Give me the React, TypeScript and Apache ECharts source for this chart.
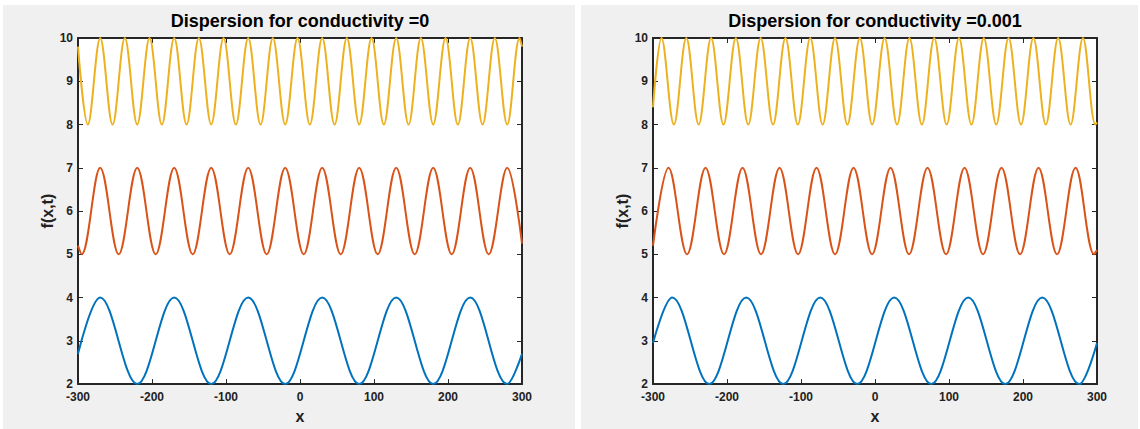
import React, { useEffect, useRef } from "react";
import * as echarts from "echarts";

// ---- data (extrema and end points) ----
const titles = ["Dispersion for conductivity =0", "Dispersion for conductivity =0.001"];
const xTicks = { min: -300, max: 300, interval: 100 };
const yTicks = { min: 2, max: 10, interval: 1 };
const xLabel = "x";
const yLabel = "f(x,t)";

// Left panel (conductivity = 0)
const blueLeft: [number, number][] = [
  [-300, 2.7], [-270, 4], [-220, 2], [-170, 4], [-120, 2], [-70, 4], [-20, 2],
  [30, 4], [80, 2], [130, 4], [180, 2], [230, 4], [280, 2], [300, 2.7],
];
const redLeft: [number, number][] = [
  [-300, 5.2], [-295, 5], [-270, 7], [-245, 5], [-220, 7], [-195, 5], [-170, 7],
  [-145, 5], [-120, 7], [-95, 5], [-70, 7], [-45, 5], [-20, 7], [5, 5], [30, 7],
  [55, 5], [80, 7], [105, 5], [130, 7], [155, 5], [180, 7], [205, 5], [230, 7],
  [255, 5], [280, 7], [300, 5.25],
];
const yellowLeft: [number, number][] = [
  [-300, 9.8], [-286.7, 8], [-270, 10], [-253.3, 8], [-236.7, 10], [-220, 8],
  [-203.3, 10], [-186.7, 8], [-170, 10], [-153.3, 8], [-136.7, 10], [-120, 8],
  [-103.3, 10], [-86.7, 8], [-70, 10], [-53.3, 8], [-36.7, 10], [-20, 8],
  [-3.3, 10], [13.3, 8], [30, 10], [46.7, 8], [63.3, 10], [80, 8], [96.7, 10],
  [113.3, 8], [130, 10], [146.7, 8], [163.3, 10], [180, 8], [196.7, 10],
  [213.3, 8], [230, 10], [246.7, 8], [263.3, 10], [280, 8], [296.7, 10], [300, 9.8],
];

// Right panel (conductivity = 0.001)
const blueRight: [number, number][] = [
  [-300, 2.95], [-274, 4], [-224, 2], [-174, 4], [-124, 2], [-74, 4], [-24, 2],
  [26, 4], [76, 2], [126, 4], [176, 2], [226, 4], [276, 2], [300, 2.95],
];
const redRight: [number, number][] = [
  [-300, 5.2], [-279, 7], [-254, 5], [-229, 7], [-204, 5], [-179, 7], [-154, 5],
  [-129, 7], [-104, 5], [-79, 7], [-54, 5], [-29, 7], [-4, 5], [21, 7], [46, 5],
  [71, 7], [96, 5], [121, 7], [146, 5], [171, 7], [196, 5], [221, 7], [246, 5],
  [271, 7], [296, 5], [300, 5.1],
];
const yellowRight: [number, number][] = [
  [-300, 8.4], [-288.5, 10], [-271.8, 8], [-255, 10], [-238.3, 8], [-221.5, 10],
  [-204.8, 8], [-188, 10], [-171.3, 8], [-154.5, 10], [-137.8, 8], [-121, 10],
  [-104.3, 8], [-87.5, 10], [-70.8, 8], [-54, 10], [-37.3, 8], [-20.5, 10],
  [-3.8, 8], [13, 10], [29.8, 8], [46.5, 10], [63.3, 8], [80, 10], [96.8, 8],
  [113.5, 10], [130.3, 8], [147, 10], [163.8, 8], [180.5, 10], [197.3, 8],
  [214, 10], [230.8, 8], [247.5, 10], [264.3, 8], [281, 10], [297.8, 8], [300, 8.05],
];

const panels = [
  { blue: blueLeft, red: redLeft, yellow: yellowLeft },
  { blue: blueRight, red: redRight, yellow: yellowRight },
];

const COLORS = { blue: "#0072BD", red: "#D95319", yellow: "#EDB120" };
const FONT = "Liberation Sans, Arial, Helvetica, sans-serif";
const AXIS_COLOR = "#262626";

export default function App() {
  const ref = useRef<HTMLDivElement>(null);

  useEffect(() => {
    document.body.style.margin = "0";
    if (!ref.current) return;
    const chart = echarts.init(ref.current, undefined, { renderer: "svg" });

    const gridLefts = [78, 653];
    const gridTop = 38;
    const gridW = 444;
    const gridH = 350;

    const grids: any[] = [];
    const xAxes: any[] = [];
    const yAxes: any[] = [];
    const series: any[] = [];
    const graphics: any[] = [
      { type: "rect", z: -10, shape: { x: 3, y: 5, width: 572, height: 424 }, style: { fill: "#f0f0f0" } },
      { type: "rect", z: -10, shape: { x: 581, y: 5, width: 557, height: 424 }, style: { fill: "#f0f0f0" } },
    ];

    panels.forEach((p, i) => {
      const left = gridLefts[i];
      grids.push({
        left, top: gridTop, width: gridW, height: gridH,
        show: true, backgroundColor: "#ffffff", borderWidth: 0,
      });
      const axisLine = { show: true, onZero: false, lineStyle: { color: AXIS_COLOR, width: 2 } };
      const axisTick = { show: true, inside: true, length: 5, lineStyle: { color: AXIS_COLOR, width: 1 } };
      const labelStyle = { color: "#222", fontSize: 12, fontWeight: "bold", fontFamily: FONT };
      // bottom x
      xAxes.push({
        type: "value", gridIndex: i, position: "bottom", ...xTicks,
        axisLine, axisTick, splitLine: { show: false },
        axisLabel: { ...labelStyle, margin: 7, lineHeight: 12 },
        name: xLabel, nameLocation: "middle", nameGap: 18,
        nameTextStyle: { color: "#222", fontSize: 16, fontWeight: "bold", fontFamily: FONT },
      });
      // top x (box)
      xAxes.push({
        type: "value", gridIndex: i, position: "top", ...xTicks,
        axisLine, axisTick, splitLine: { show: false }, axisLabel: { show: false },
      });
      // left y
      yAxes.push({
        type: "value", gridIndex: i, position: "left", ...yTicks,
        axisLine, axisTick, splitLine: { show: false },
        axisLabel: { ...labelStyle, margin: 5, lineHeight: 9 },
        name: yLabel, nameLocation: "middle", nameGap: 20,
        nameTextStyle: { color: "#222", fontSize: 16, fontWeight: "bold", fontFamily: FONT },
      });
      // right y (box)
      yAxes.push({
        type: "value", gridIndex: i, position: "right", ...yTicks,
        axisLine, axisTick, splitLine: { show: false }, axisLabel: { show: false },
      });

      (["blue", "red", "yellow"] as const).forEach((k) => {
        series.push({
          type: "line",
          xAxisIndex: i * 2,
          yAxisIndex: i * 2,
          data: p[k],
          showSymbol: false,
          smooth: 0.363,
          clip: false,
          lineStyle: { color: COLORS[k], width: 2 },
          itemStyle: { color: COLORS[k] },
          z: 3,
        });
      });

      graphics.push({
        type: "text",
        x: left + gridW / 2,
        y: 21,
        style: {
          text: titles[i],
          align: "center",
          verticalAlign: "middle",
          fill: "#000",
          fontSize: 18,
          fontWeight: "bold",
          fontFamily: FONT,
        },
      });
    });

    chart.setOption({
      animation: false,
      backgroundColor: "#ffffff",
      grid: grids,
      xAxis: xAxes,
      yAxis: yAxes,
      series,
      graphic: graphics,
    });

    return () => chart.dispose();
  }, []);

  return <div ref={ref} style={{ width: 1140, height: 429 }} />;
}
